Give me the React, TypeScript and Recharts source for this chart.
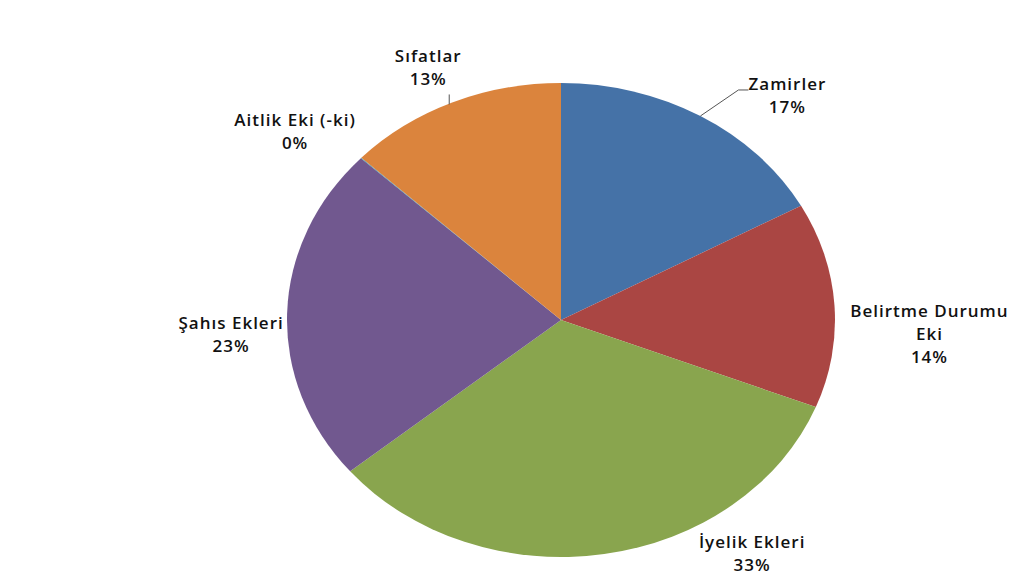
import { Cell, Pie, PieChart } from 'recharts'

const categories = ['Zamirler', 'Belirtme Durumu Eki', 'İyelik Ekleri', 'Şahıs Ekleri', 'Aitlik Eki (-ki)', 'Sıfatlar']
const values = [17, 14, 33, 23, 0.04, 13]
const colors = ['#4572A7', '#AA4643', '#89A54E', '#71588F', '#4198AF', '#DB843D']

// label block offset from the slice's outer edge, plus optional leader line
const labelLayout = [
  { dx: 87, dy: -20, lines: ['Zamirler'], leader: [[0, 0], [38, -26], [48, -26]] },
  { dx: 95, dy: 29, lines: ['Belirtme Durumu', 'Eki'] },
  { dx: 148, dy: -1, lines: ['İyelik Ekleri'] },
  { dx: -56, dy: 21, lines: ['Şahıs Ekleri'] },
  { dx: -66, dy: -26, lines: ['Aitlik Eki (-ki)'] },
  { dx: -24, dy: -35, lines: ['Sıfatlar'], leader: [[-3, 2], [-3, -8]] },
]

const data = categories.map((name, i) => ({ name, value: values[i] }))

const CX = 561
const CY = 320
const R = 274
const K = 0.865 // vertical squash of the pie
const RAD = Math.PI / 180

function renderLabel(props: any) {
  const { midAngle, percent, index } = props
  const lay = labelLayout[index]
  const ex = CX + R * Math.cos(midAngle * RAD)
  const ey = CY - R * K * Math.sin(midAngle * RAD)
  const lx = ex + lay.dx
  const ly = ey + lay.dy
  const lines = [...lay.lines, `${Math.round(percent * 100)}%`]
  const gap = 23
  return (
    <g key={`lbl-${index}`}>
      {lay.leader && (
        <polyline
          points={lay.leader.map(([px, py]) => `${ex + px},${ey + py}`).join(' ')}
          fill="none"
          stroke="#555"
          strokeWidth={1}
        />
      )}
      <text
        x={lx}
        textAnchor="middle"
        fontFamily="'Open Sans', sans-serif"
        fontSize={17}
        fontWeight={600}
        letterSpacing={1}
        fill="#111"
      >
        {lines.map((t, i) => (
          <tspan key={i} x={lx} y={ly + (i - (lines.length - 1) / 2) * gap + 6}>
            {t}
          </tspan>
        ))}
      </text>
    </g>
  )
}

export default function App() {
  return (
    <div style={{ position: 'absolute', left: 0, top: 0, width: 1009, height: 573, background: '#fff' }}>
      <style>{`.squash .recharts-pie-sector { transform: scaleY(${K}); transform-origin: ${CX}px ${CY}px; } svg:focus, path:focus { outline: none; }`}</style>
      <PieChart width={1009} height={573} className="squash" margin={{ top: 0, right: 0, bottom: 0, left: 0 }}>
        <Pie
          data={data}
          dataKey="value"
          nameKey="name"
          cx={CX}
          cy={CY}
          outerRadius={R}
          startAngle={90}
          endAngle={-270}
          stroke="none"
          label={renderLabel}
          labelLine={false}
          isAnimationActive={false}
        >
          {data.map((d, i) => (
            <Cell key={d.name} fill={colors[i]} />
          ))}
        </Pie>
      </PieChart>
    </div>
  )
}
